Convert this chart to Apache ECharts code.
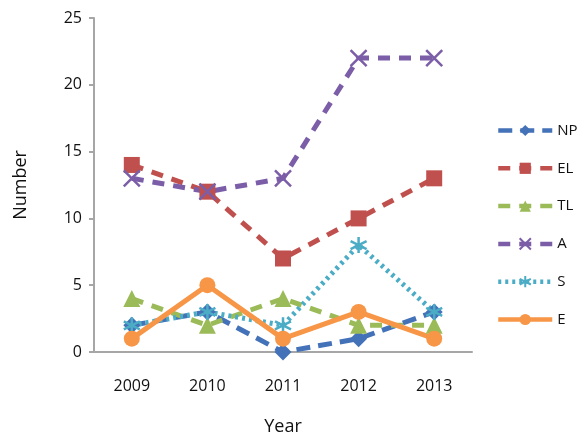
<!DOCTYPE html>
<html>
<head>
<meta charset="utf-8">
<script src="https://cdn.jsdelivr.net/npm/echarts@6/dist/echarts.min.js"></script>
<style>
  html, body { margin: 0; padding: 0; background: #fff; }
  #chart { width: 578px; height: 434px; }
</style>
</head>
<body>
<div id="chart"></div>
<script>
// Year categories and counts per group
const years = ['2009', '2010', '2011', '2012', '2013'];
const np = [2, 3, 0, 1, 3];
const el = [14, 12, 7, 10, 13];
const tl = [4, 2, 4, 2, 2];
const a  = [13, 12, 13, 22, 22];
const s  = [2, 3, 2, 8, 3];
const e  = [1, 5, 1, 3, 1];

const FONT = '"Open Sans", "Liberation Sans", sans-serif';

const crossPath = 'path://M0,0L10,10M10,0L0,10';
const starPath = 'path://M5,0L5,10M0.7,2.5L9.3,7.5M0.7,7.5L9.3,2.5';

function line(name, data, color, type, symbol, size, outline) {
  const itemStyle = outline
    ? { color: 'rgba(0,0,0,0)', borderColor: color, borderWidth: 2.5 }
    : { color: color };
  return {
    name, type: 'line', data,
    symbol, symbolSize: size,
    showAllSymbol: true,
    lineStyle: { color, width: 5, type },
    itemStyle,
    z: 2
  };
}

const chart = echarts.init(document.getElementById('chart'));
chart.setOption({
  animation: false,
  grid: { left: 94, right: 106, top: 18, bottom: 82, outerBoundsMode: 'none', containLabel: false },
  legend: {
    orient: 'vertical',
    left: 496, top: 123, padding: 0,
    itemWidth: 54, itemHeight: 14, itemGap: 22.8,
    lineStyle: { width: 4.5 },
    textStyle: { fontFamily: FONT, fontSize: 15, color: '#111' },
    data: ['NP', 'EL', 'TL', 'A', 'S', 'E']
  },
  xAxis: {
    type: 'category', data: years,
    name: 'Year', nameLocation: 'middle', nameGap: 66,
    nameTextStyle: { fontFamily: FONT, fontSize: 18, color: '#111' },
    axisLine: { lineStyle: { color: '#a6a6a6', width: 2 } },
    axisTick: { show: false },
    axisLabel: { fontFamily: FONT, fontSize: 16, color: '#111', margin: 26 }
  },
  yAxis: {
    type: 'value', min: 0, max: 25, interval: 5,
    name: 'Number', nameLocation: 'middle', nameGap: 64, nameRotate: 90,
    nameTextStyle: { fontFamily: FONT, fontSize: 18, color: '#111' },
    splitLine: { show: false },
    axisLine: { show: true, lineStyle: { color: '#a6a6a6', width: 2 } },
    axisTick: { show: true, length: 5, lineStyle: { color: '#a6a6a6', width: 2 } },
    axisLabel: { fontFamily: FONT, fontSize: 16, color: '#111', margin: 12 }
  },
  series: [
    line('NP', np, '#4472b8', [14, 8], 'diamond', 17, false),
    line('EL', el, '#c0504d', [12, 9], 'rect', 16, false),
    line('TL', tl, '#9bbb59', [12, 9], 'triangle', 17, false),
    line('A', a, '#7b5ea7', [12, 9], crossPath, 16, true),
    line('S', s, '#4bacc6', [3, 4], starPath, 16, true),
    line('E', e, '#f79646', 'solid', 'circle', 16, false)
  ]
});
</script>
</body>
</html>
